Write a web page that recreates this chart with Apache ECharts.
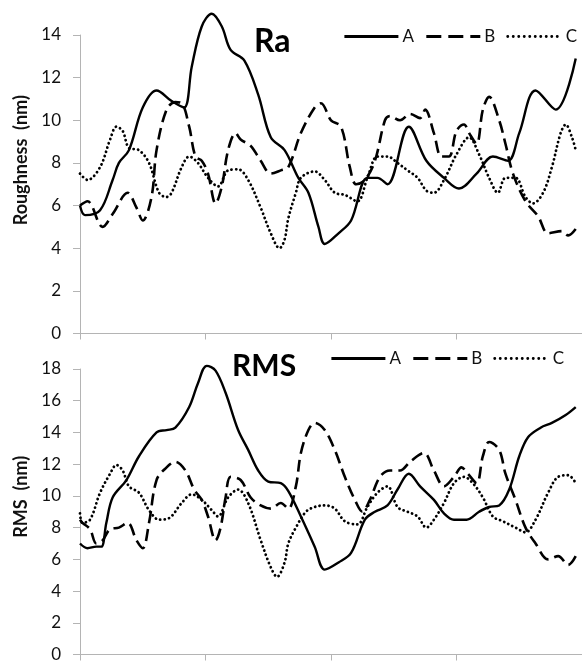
<!DOCTYPE html>
<html>
<head>
<meta charset="utf-8">
<script src="https://cdn.jsdelivr.net/npm/echarts@6/dist/echarts.min.js"></script>
<style>
html,body{margin:0;padding:0;background:#fff;}
#chart{width:582px;height:663px;}
</style>
</head>
<body>
<div id="chart"></div>
<script>
// Tick labels / axis settings (data units)
var raTicks = [0, 2, 4, 6, 8, 10, 12, 14];
var rmsTicks = [0, 2, 4, 6, 8, 10, 12, 14, 16, 18];
var seriesNames = ['A', 'B', 'C'];

// Ra panel: [position, roughness (nm)]
var raA = [[0,6.0],[0.4,5.55],[1.6,5.78],[2.6,7.2],[3.1,8.0],[3.9,8.6],[5.0,10.6],[6.1,11.4],[7.3,10.9],[8.3,10.6],[8.9,12.5],[9.7,14.4],[10.5,15.0],[11.3,14.4],[12.0,13.3],[13.1,12.8],[14.2,11.2],[15.2,9.2],[16.3,8.6],[17.4,7.3],[18.2,6.6],[19.0,5.0],[19.5,4.2],[20.6,4.7],[21.6,5.3],[22.9,7.3],[23.7,7.3],[24.5,7.0],[26.2,9.7],[27.6,8.1],[29.0,7.3],[30.2,6.8],[31.6,7.5],[32.9,8.3],[34.1,8.1],[35.0,9.4],[36.3,11.4],[37.9,10.5],[39.5,12.9]];
var raB = [[0,6.0],[0.6,6.2],[1.8,5.0],[2.6,5.6],[3.8,6.6],[4.5,5.9],[5.0,5.3],[5.7,6.4],[6.1,8.6],[6.9,10.5],[7.6,10.85],[8.1,10.8],[8.7,9.7],[9.2,8.3],[9.7,8.1],[10.2,7.5],[10.8,6.1],[11.3,6.9],[11.8,8.6],[12.4,9.4],[12.8,9.1],[13.6,8.8],[14.4,8.1],[15.2,7.5],[16.0,7.65],[16.6,7.8],[17.6,9.4],[18.7,10.6],[19.2,10.8],[20.0,10.0],[20.8,9.7],[21.5,7.8],[22.0,7.0],[22.7,7.2],[23.5,8.1],[24.3,10.0],[24.7,10.2],[25.5,10.0],[26.3,10.3],[27.1,10.1],[27.5,10.5],[28.2,9.4],[28.8,8.3],[29.4,8.3],[30.0,9.5],[30.6,9.8],[31.0,9.4],[31.6,8.9],[32.1,10.5],[32.6,11.1],[33.4,10.0],[33.9,8.9],[34.5,7.5],[35.5,6.2],[36.5,5.5],[37.3,4.7],[38.4,4.8],[38.9,4.6],[39.5,4.9]];
var raC = [[0,7.5],[0.6,7.2],[1.6,7.8],[2.4,9.1],[2.9,9.7],[3.4,9.5],[3.9,8.7],[4.7,8.6],[5.5,8.0],[6.3,6.6],[6.9,6.4],[7.3,6.6],[8.1,7.8],[8.7,8.3],[9.4,8.0],[10.2,7.3],[11.0,6.9],[11.8,7.65],[12.6,7.7],[13.4,7.2],[14.4,5.9],[15.2,4.7],[15.9,4.0],[16.3,4.4],[16.6,5.4],[17.2,6.6],[17.6,7.3],[18.7,7.6],[19.5,7.2],[20.3,6.6],[21.1,6.5],[22.1,6.2],[22.9,7.3],[23.7,8.3],[24.5,8.3],[25.3,8.0],[26.1,7.65],[26.9,7.3],[27.6,6.7],[28.2,6.6],[29.0,7.2],[30.0,8.4],[31.0,9.2],[31.8,8.4],[32.6,7.3],[33.3,6.6],[33.9,7.3],[34.7,7.3],[35.5,6.4],[36.1,6.1],[36.9,6.6],[37.6,7.8],[38.3,9.4],[38.7,9.8],[39.2,9.2],[39.5,8.6]];

// RMS panel: [position, RMS (nm)]
var rmsA = [[0,7.0],[0.6,6.7],[1.3,6.8],[1.7,6.8],[2.1,8.3],[2.6,9.9],[3.7,11.0],[4.7,12.5],[6.1,14.0],[6.9,14.15],[7.6,14.3],[8.7,15.6],[9.4,17.1],[10.1,18.2],[10.8,17.9],[11.6,16.5],[12.6,14.15],[13.4,12.9],[14.2,11.6],[15.0,10.9],[16.0,10.8],[16.6,10.3],[17.6,8.7],[18.7,6.8],[19.5,5.35],[20.6,5.8],[21.6,6.4],[22.7,8.5],[23.5,9.0],[24.5,9.4],[25.3,10.4],[26.2,11.4],[27.1,10.6],[28.2,9.75],[29.0,8.9],[29.8,8.5],[30.8,8.5],[31.8,9.0],[32.6,9.3],[33.4,9.4],[34.2,10.4],[35.0,12.5],[35.7,13.7],[36.7,14.3],[37.6,14.6],[38.7,15.1],[39.5,15.6]];
var rmsB = [[0,8.5],[0.2,8.3],[0.8,7.9],[1.3,7.0],[1.8,7.2],[2.4,7.9],[3.1,8.0],[3.8,8.3],[4.5,7.2],[5.0,6.7],[5.5,8.3],[6.1,11.0],[6.9,11.8],[7.6,12.15],[8.4,11.6],[9.1,10.4],[9.7,9.75],[10.2,8.7],[10.8,7.2],[11.2,8.0],[11.6,9.9],[12.0,11.2],[12.8,11.0],[13.6,9.9],[14.4,9.4],[15.2,9.2],[16.0,9.55],[16.6,9.2],[17.2,10.6],[17.6,12.7],[18.2,14.15],[18.7,14.6],[19.5,14.15],[20.3,12.9],[21.1,11.2],[21.9,9.75],[22.5,9.0],[23.1,9.75],[23.9,11.2],[24.7,11.6],[25.5,11.6],[26.3,12.15],[27.4,12.7],[28.2,11.6],[29.0,10.6],[29.8,11.2],[30.4,11.8],[30.9,11.4],[31.6,10.8],[32.1,12.5],[32.6,13.4],[33.4,12.9],[33.9,11.4],[34.7,9.75],[35.5,8.0],[36.3,7.0],[37.3,6.0],[38.1,6.2],[38.9,5.65],[39.5,6.2]];
var rmsC = [[0,8.9],[0.2,8.3],[0.8,8.5],[1.6,10.2],[2.4,11.4],[2.9,11.95],[3.4,11.6],[3.9,10.6],[4.7,10.2],[5.5,9.1],[6.3,8.5],[7.1,8.6],[8.1,9.55],[8.9,10.1],[9.7,9.75],[10.5,9.1],[11.0,8.7],[11.8,9.9],[12.6,10.4],[13.4,9.55],[14.4,7.2],[15.2,5.5],[15.7,4.9],[16.3,5.8],[16.6,7.0],[17.2,8.0],[18.0,9.0],[18.7,9.3],[19.5,9.4],[20.3,9.2],[21.1,8.4],[22.1,8.2],[22.9,9.3],[23.7,10.2],[24.5,10.6],[25.3,9.3],[26.1,9.0],[26.9,8.7],[27.6,8.0],[28.2,8.5],[29.0,9.55],[29.8,10.8],[30.6,11.2],[31.3,10.8],[32.1,9.9],[32.9,8.7],[33.7,8.4],[34.7,8.0],[35.5,7.7],[36.3,8.5],[37.3,10.2],[38.1,11.2],[38.9,11.3],[39.5,10.8]];

var FONT = 'Lato, "Open Sans", "Liberation Sans", sans-serif';
var AXIS_COLOR = '#b4b4b4';
var TEXT_COLOR = '#111';

var styles = [
  { type: 'solid', width: 2.4, legendType: 'solid' },
  { type: [12, 6], width: 2.6, legendType: [15, 7] },
  { type: [0.1, 4.4], width: 2.8, cap: 'round', legendType: [0.1, 5.4] }
];

function xAxisOpt(gi) {
  return {
    type: 'value', gridIndex: gi, min: 0, max: 40, interval: 10,
    axisLine: { show: true, lineStyle: { color: AXIS_COLOR, width: 1 } },
    axisTick: { show: true, length: 6, inside: false, lineStyle: { color: AXIS_COLOR } },
    axisLabel: { show: false },
    splitLine: { show: false }
  };
}
function yAxisOpt(gi, ticks, name, pad) {
  return {
    type: 'value', gridIndex: gi, min: ticks[0], max: ticks[ticks.length - 1], interval: ticks[1] - ticks[0],
    name: name, nameLocation: 'middle', nameGap: 50, nameRotate: 90,
    nameTextStyle: { fontFamily: FONT, fontWeight: 'bold', fontSize: 18, color: TEXT_COLOR, padding: [0, 0, 0, pad] },
    axisLine: { show: true, lineStyle: { color: AXIS_COLOR, width: 1 } },
    axisTick: { show: true, length: 7, lineStyle: { color: AXIS_COLOR } },
    axisLabel: { show: true, margin: 19, fontFamily: FONT, fontSize: 17, color: TEXT_COLOR },
    splitLine: { show: false }
  };
}
function mkSeries(data, idx, gi) {
  return {
    type: 'line', name: seriesNames[idx], xAxisIndex: gi, yAxisIndex: gi,
    data: data, smooth: 0.35, symbol: 'none', clip: false,
    lineStyle: { color: '#000', width: styles[idx].width, type: styles[idx].type, cap: styles[idx].cap || 'butt' },
    itemStyle: { color: '#000' },
    emphasis: { disabled: true },
    animation: false
  };
}
function legendOpt(left, top) {
  return {
    show: true, left: left, top: top, padding: 0, itemGap: 11, itemWidth: 54, itemHeight: 18,
    data: seriesNames.map(function (n, i) {
      return { name: n, lineStyle: { width: 2.8, type: styles[i].legendType, cap: styles[i].cap || 'butt', color: '#000' } };
    }),
    selectedMode: false,
    itemStyle: { color: 'rgba(0,0,0,0)', borderColor: 'rgba(0,0,0,0)', borderWidth: 0, opacity: 0 },
    textStyle: { fontFamily: FONT, fontSize: 17, color: TEXT_COLOR, padding: [0, 0, 0, -1] }
  };
}

var chart = echarts.init(document.getElementById('chart'), null, { renderer: 'canvas' });
var option = {
  backgroundColor: '#fff',
  animation: false,
  grid: [
    { left: 80, right: -6, top: 35, bottom: 329.5, containLabel: false },
    { left: 80, right: -6, top: 369, bottom: 8, containLabel: false }
  ],
  xAxis: [xAxisOpt(0), xAxisOpt(1)],
  yAxis: [yAxisOpt(0, raTicks, 'Roughness  (nm)', 48), yAxisOpt(1, rmsTicks, 'RMS  (nm)', 30)],
  legend: [
    Object.assign(legendOpt(343, 28), { id: 'legRa' }),
    Object.assign(legendOpt(330, 350), { id: 'legRms' })
  ],
  graphic: [
    { type: 'text', x: 254, y: 42, style: { text: 'Ra', fontFamily: FONT, fontWeight: 'bold', fontSize: 32, fill: '#000', verticalAlign: 'middle', align: 'left' } },
    { type: 'text', x: 232, y: 366, style: { text: 'RMS', fontFamily: FONT, fontWeight: 'bold', fontSize: 30, fill: '#000', verticalAlign: 'middle', align: 'left' } }
  ],
  series: [
    mkSeries(raA, 0, 0), mkSeries(raB, 1, 0), mkSeries(raC, 2, 0),
    mkSeries(rmsA, 0, 1), mkSeries(rmsB, 1, 1), mkSeries(rmsC, 2, 1)
  ]
};
chart.setOption(option);
</script>
</body>
</html>
